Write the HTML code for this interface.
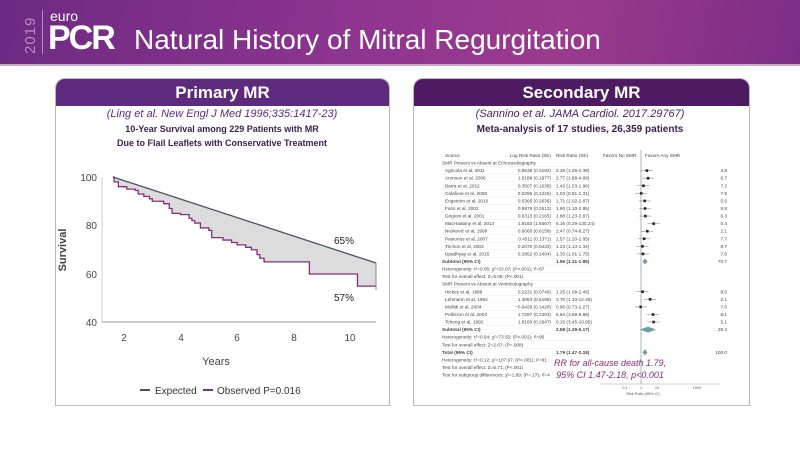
<!DOCTYPE html>
<html><head><meta charset="utf-8"><style>
body{margin:0;width:800px;height:450px;overflow:hidden;background:#fff;font-family:"Liberation Sans",sans-serif;position:relative}
.hdr{position:absolute;left:0;top:0;width:800px;height:64px;background:linear-gradient(100deg,#6d2a82 0%,#8e3590 45%,#9b3a8e 70%,#7c2e86 100%);border-bottom:2px solid #c9a6cf}
.card{position:absolute;top:78px;height:326px;border:1px solid #bbb;border-radius:10px 10px 0 0;background:#fff;overflow:hidden}
.ch{height:27px;color:#fff;text-align:center}
</style></head><body>
<div class="hdr">
<div style="position:absolute;left:22px;top:12px;width:14px;height:42px;color:#b78bc4;font-size:15px;writing-mode:vertical-rl;transform:rotate(180deg);letter-spacing:1px">2019</div>
<div style="position:absolute;left:42px;top:10px;width:1px;height:44px;background:#b78bc4"></div>
<div style="position:absolute;left:50px;top:8px;color:#fff;font-size:14px">euro</div>
<div style="position:absolute;left:48px;top:19px;color:#fff;font-size:34px;font-weight:bold;letter-spacing:-2px">PCR</div>
<div style="position:absolute;left:134px;top:24px;color:#fff;font-size:28px">Natural History of Mitral Regurgitation</div>
</div>

<div class="card" style="left:55px;width:333px">
<div class="ch" style="background:#5e2a7e"><div style="font-size:17px;font-weight:bold;padding-top:4px">Primary MR</div></div>
</div>
<div class="card" style="left:413px;width:335px">
<div class="ch" style="background:#4e1b62"><div style="font-size:17px;font-weight:bold;padding-top:4px">Secondary MR</div></div>
</div>

<svg width="800" height="450" style="position:absolute;left:0;top:0" font-family="Liberation Sans, sans-serif">
<text x="222" y="117" font-size="11" font-style="italic" fill="#5e2a7e" text-anchor="middle">(Ling et al. New  Engl J Med 1996;335:1417-23)</text>
<text x="580" y="117" font-size="11" font-style="italic" fill="#4e1b62" text-anchor="middle">(Sannino et al. JAMA Cardiol. 2017.29767)</text>
<text x="222" y="132" font-size="9" font-weight="bold" fill="#3b1f4f" text-anchor="middle">10-Year Survival among 229 Patients with MR</text>
<text x="222" y="146" font-size="9" font-weight="bold" fill="#3b1f4f" text-anchor="middle">Due to Flail Leaflets with Conservative Treatment</text>
<g font-size="10" fill="#444">
<text x="97" y="181" text-anchor="end">100</text><text x="97" y="229" text-anchor="end">80</text>
<text x="97" y="278" text-anchor="end">60</text><text x="97" y="326" text-anchor="end">40</text>
<text x="124" y="341" text-anchor="middle">2</text><text x="181" y="341" text-anchor="middle">4</text>
<text x="237" y="341" text-anchor="middle">6</text><text x="294" y="341" text-anchor="middle">8</text>
<text x="350" y="341" text-anchor="middle">10</text>
<text x="216" y="365" text-anchor="middle" font-size="11">Years</text>
<text transform="translate(66,250) rotate(-90)" text-anchor="middle" font-size="11" font-weight="bold">Survival</text>
</g>
<line x1="102" y1="322" x2="376" y2="322" stroke="#999"/>
<line x1="102" y1="177" x2="102" y2="322" stroke="#ccc"/>
<path id="fill" d="" fill="#dcdcdc"/>
<path id="obs" d="" fill="none" stroke="#8a2c7e" stroke-width="1.3"/>
<line x1="113" y1="177" x2="376" y2="263" stroke="#4a5560" stroke-width="1.3"/>
<line x1="376" y1="263" x2="376" y2="290" stroke="#888"/>
<text x="344" y="244" font-size="10" fill="#222" text-anchor="middle">65%</text>
<text x="344" y="301" font-size="10" fill="#222" text-anchor="middle">57%</text>
<line x1="140" y1="390" x2="150" y2="390" stroke="#4a5560" stroke-width="2"/>
<text x="155" y="394" font-size="10" fill="#333">Expected</text>
<line x1="203" y1="390" x2="213" y2="390" stroke="#8a2c7e" stroke-width="2"/>
<text x="217" y="394" font-size="10" fill="#333">Observed P=0.016</text>

<text x="580" y="132" font-size="10" font-weight="bold" fill="#3b1f4f" text-anchor="middle">Meta-analysis of 17 studies, 26,359 patients</text>
<g id="forest" font-size="4.7" fill="#444"></g>
<line x1="641" y1="150" x2="641" y2="384" stroke="#666" stroke-width="0.5"/>
<text x="610" y="366" font-size="9" font-style="italic" fill="#8a2c7e" text-anchor="middle">RR for all-cause death 1.79,</text>
<text x="610" y="378" font-size="9" font-style="italic" fill="#8a2c7e" text-anchor="middle">95% CI 1.47-2.18, p&lt;0.001</text>
<line x1="600" y1="384" x2="720" y2="384" stroke="#888" stroke-width="0.4"/>
<g font-size="3.8" fill="#555" text-anchor="middle"><text x="600" y="389">.</text><text x="625" y="389">0.1</text><text x="641" y="389">1</text><text x="657" y="389">10</text><text x="697" y="389">1000</text><text x="643" y="395">Risk Ratio (95% CI)</text></g>
</svg>
<script>
var X=y=>124+(y-2)*28.3, Y=s=>177+(100-s)*2.425;
var p=[[1.6,100],[1.65,98],[1.8,96],[2.1,95],[2.4,94.5],[2.5,93],[2.7,92],[2.9,91],[3.0,90],[3.4,89],[3.6,87],[3.7,85],[4.0,84.5],[4.3,83],[4.4,82],[4.5,81],[4.7,79],[5.0,78],[5.1,75],[5.5,74],[5.8,73],[6.0,72],[6.3,71],[6.5,70],[6.7,68],[6.8,66.5],[6.95,65],[8.55,60],[10.25,55],[10.9,55]];
var d="M"+X(p[0][0])+","+Y(p[0][1]);
for(var i=1;i<p.length;i++){d+=" L"+X(p[i][0])+","+Y(p[i-1][1])+" L"+X(p[i][0])+","+Y(p[i][1]);}
document.getElementById("obs").setAttribute("d",d);
document.getElementById("fill").setAttribute("d",d+" L376,263 L113,177 Z");
var rows=[["Source","Log Risk Ratio (SE)","Risk Ratio (SE)","",0],["SMR Present vs Absent at Echocardiography","","","",0],
["Agricola et al, 2011","0.8538 (0.3182)","2.35 (1.26-4.38)","4.8",2.35],["Aronson et al, 2006","1.0188 (0.1977)","2.77 (1.88-4.08)","6.7",2.77],
["Barra et al, 2012","0.3507 (0.1638)","1.42 (1.03-1.96)","7.2",1.42],["Calafiore et al, 2008","0.0296 (0.1226)","1.03 (0.81-1.31)","7.9",1.03],
["Engström et al, 2010","0.5365 (0.2636)","1.71 (1.02-2.87)","5.6",1.71],["Faris et al, 2002","0.5878 (0.2513)","1.80 (1.10-2.95)","5.8",1.8],
["Grigioni et al, 2001","0.6313 (0.2165)","1.88 (1.23-2.87)","6.3",1.88],["MacHaalany et al, 2014","1.8183 (1.5567)","6.16 (0.29-130.24)","0.4",6.16],
["Nesković et al, 1999","0.9060 (0.6158)","2.47 (0.74-8.27)","2.1",2.47],["Pastorius et al, 2007","0.4511 (0.1371)","1.57 (1.20-2.05)","7.7",1.57],
["Trichon et al, 2003","0.2070 (0.0433)","1.23 (1.13-1.34)","8.7",1.23],["Upadhyay et al, 2015","0.2852 (0.1404)","1.33 (1.01-1.75)","7.6",1.33],
["Subtotal (95% CI)","","1.56 (1.31-1.85)","70.7",-1],["Heterogeneity: τ²=0.05; χ²=33.07; (P<.001); I²=67","","","",0],["Test for overall effect: Z=5.08; (P<.001)","","","",0],
["SMR Present vs Absent at Ventriculography","","","",0],["Hickey et al, 1988","0.2231 (0.0746)","1.25 (1.08-1.45)","8.5",1.25],
["Lehmann et al, 1992","1.3083 (0.6189)","3.70 (1.10-12.45)","2.1",3.7],["Mollidi et al, 2004","−0.0429 (0.1420)","0.96 (0.73-1.27)","7.6",0.96],
["Pellizzon et al, 2004","1.7297 (0.2303)","5.64 (3.59-8.86)","6.1",5.64],["Tcheng et al, 1992","1.8160 (0.2947)","6.15 (3.45-10.95)","5.1",6.15],
["Subtotal (95% CI)","","2.58 (1.29-5.17)","29.3",-2],["Heterogeneity: τ²=0.54; χ²=73.55; (P<.001); I²=95","","","",0],["Test for overall effect: Z=2.67; (P=.008)","","","",0],
["Total (95% CI)","","1.79 (1.47-2.18)","100.0",-3],["Heterogeneity: τ²=0.12; χ²=107.97; (P<.001); I²=81","","","",0],["Test for overall effect: Z=5.71; (P<.001)","","","",0],["Test for subgroup differences: χ²=1.89; (P=.17); I²=4","","","",0]];
var g=document.getElementById("forest"),s="";
rows.forEach(function(r,i){var y=157+i*7.57;var ind=(r[1]||r[4]>0)?445:442;
s+='<text x="'+ind+'" y="'+y+'"'+(r[4]<0?' font-weight="bold"':'')+'>'+r[0]+'</text>';
if(r[1])s+='<text x="551" y="'+y+'" text-anchor="end">'+r[1]+'</text>';
if(r[2])s+='<text x="556" y="'+y+'"'+(r[4]<0?' font-weight="bold"':'')+'>'+r[2]+'</text>';
if(r[3])s+='<text x="727" y="'+y+'" text-anchor="end">'+r[3]+'</text>';
if(i>0&&i<rows.length-3)s+='<line x1="442" y1="'+(y+2)+'" x2="592" y2="'+(y+2)+'" stroke="#ddd" stroke-width="0.3"/>';
if(r[4]>0){var cx=641+16*Math.log10(r[4]);s+='<line x1="'+(cx-6)+'" y1="'+(y-1.5)+'" x2="'+(cx+6)+'" y2="'+(y-1.5)+'" stroke="#555" stroke-width="0.4"/><rect x="'+(cx-1.3)+'" y="'+(y-2.8)+'" width="2.6" height="2.6" fill="#222"/>';}
if(r[4]<0){var w=r[4]==-2?8:2.5,cx=r[4]==-2?648:645;s+='<polygon points="'+(cx-w)+','+(y-1.5)+' '+cx+','+(y-4.5)+' '+(cx+w)+','+(y-1.5)+' '+cx+','+(y+1.5)+'" fill="#6f9bb0"/>';}
});
s+='<text x="603" y="157">Favors No SMR</text><text x="645" y="157">Favors Any SMR</text>';
g.innerHTML=s;
</script>
</body></html>
